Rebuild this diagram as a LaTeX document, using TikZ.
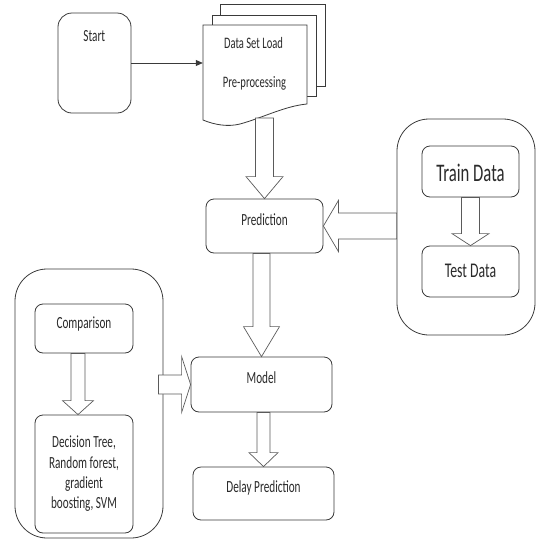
\documentclass[tikz,border=0pt]{standalone}
\usepackage{fontspec}
\setmainfont{Carlito}[FakeStretch=0.66]
\usetikzlibrary{arrows.meta,calc}

\definecolor{linec}{HTML}{3A3A3A}
\definecolor{arrc}{HTML}{5A5A5A}
\definecolor{textc}{HTML}{2A2A2A}

% block arrows: #1 start, #2 tip, #3 shaft half width, #4 head half width, #5 head length
\newcommand\blkdown[5]{\draw[blk] let \p1=(#1), \p2=(#2) in
  (\x2-#3,\y1) -- (\x2-#3,\y2+#5) -- (\x2-#4,\y2+#5) -- (\p2) --
  (\x2+#4,\y2+#5) -- (\x2+#3,\y2+#5) -- (\x2+#3,\y1) -- cycle;}
\newcommand\blkleft[5]{\draw[blk] let \p1=(#1), \p2=(#2) in
  (\x1,\y2+#3) -- (\x2+#5,\y2+#3) -- (\x2+#5,\y2+#4) -- (\p2) --
  (\x2+#5,\y2-#4) -- (\x2+#5,\y2-#3) -- (\x1,\y2-#3) -- cycle;}
\newcommand\blkright[5]{\draw[blk] let \p1=(#1), \p2=(#2) in
  (\x1,\y2+#3) -- (\x2-#5,\y2+#3) -- (\x2-#5,\y2+#4) -- (\p2) --
  (\x2-#5,\y2-#4) -- (\x2-#5,\y2-#3) -- (\x1,\y2-#3) -- cycle;}

\begin{document}
\begin{tikzpicture}[x=1pt,y=-1pt,
  box/.style={draw=linec, line width=0.8pt, rounded corners=8pt, fill=white,
    inner sep=0pt, text height=7pt, text depth=9pt, text=textc,
    font=\fontsize{17}{20}\selectfont},
  group/.style={draw=linec, line width=0.8pt, rounded corners=32pt, inner sep=0pt},
  page/.style={draw=linec, line width=0.8pt, fill=white},
  blk/.style={draw=arrc, line width=0.7pt, fill=white, line join=miter},
  txt/.style={inner sep=0pt, anchor=base, text=textc, font=\fontsize{16}{19}\selectfont},
]
\useasboundingbox (0,0) rectangle (536,539);

% group containers
\node[group, minimum width=138pt, minimum height=216pt] (traingrp) at (466,227) {};
\node[group, minimum width=148pt, minimum height=269pt] (leftgrp) at (89,403.5) {};

% start
\node[box, rounded corners=14pt, minimum width=73pt, minimum height=100pt] (start) at (94.5,63) {};
\node[txt, font=\fontsize{17}{20}\selectfont] (starttxt) at (94.3,41.7) {Start};

% multi-document: data set load / pre-processing
\draw[page] (220,4) rectangle (325,86);
\draw[page] (212,15) rectangle (316,96);
\draw[page] (203,25) -- (307,25) -- (307,104)
  .. controls (285,106) and (262,118) .. (240,124)
  .. controls (228,127) and (215,125) .. (203,120) -- cycle;
\node[inner sep=0pt, minimum width=104pt, minimum height=95pt] (doc) at (255,72.5) {};
\node[txt] (doctxt1) at (253.5,48) {Data Set Load};
\node[txt] (doctxt2) at (254.5,87.5) {Pre-processing};
\coordinate (docout) at (263,118);

% main boxes
\node[box, minimum width=117pt, minimum height=54pt] (pred) at (264.5,226) {Prediction};
\node[box, minimum width=141pt, minimum height=55pt] (model) at (261.5,384.5) {Model};
\node[box, minimum width=141pt, minimum height=53pt] (delay) at (263.5,493.5) {Delay Prediction};

% train / test group
\node[box, minimum width=97pt, minimum height=51pt, text height=20pt, text depth=0pt,
  font=\fontsize{25.3}{28}\selectfont] (train) at (470.5,171.5) {Train Data};
\node[box, minimum width=97pt, minimum height=51pt, text height=12pt, text depth=0.6pt,
  font=\fontsize{20.9}{24}\selectfont] (test) at (470.5,271.5) {Test Data};

% comparison group
\node[box, minimum width=98pt, minimum height=49pt, text height=9pt, text depth=9pt] (comp) at (84,328.5) {Comparison};
\node[box, minimum width=98pt, minimum height=118pt, align=center,
  text height=, text depth=, font=\fontsize{17}{20.4}\selectfont] (algos) at (84,474)
  {Decision Tree,\\Random forest,\\gradient\\boosting, SVM};

% connectors
\draw[linec, line width=0.8pt, -{Triangle[length=7pt,width=6pt]}]
  (start.east) -- (start.east -| doc.west);
\blkdown{docout}{pred.north}{9pt}{18.5pt}{22pt}
\blkdown{train.south}{test.north}{9pt}{18.5pt}{12pt}
\blkleft{traingrp.west}{pred.east}{13pt}{25.5pt}{15pt}
\blkdown{pred.south}{model.north}{8.5pt}{18pt}{30pt}
\coordinate (compout) at ($(comp.south)+(-5,0)$);
\coordinate (algosin) at ($(algos.north)+(-6,0)$);
\blkdown{compout}{algosin}{7pt}{15.5pt}{14pt}
\coordinate (leftout) at ($(leftgrp.east)+(-5,0)$);
\blkright{leftout}{model.west}{9.5pt}{28pt}{9pt}
\blkdown{model.south}{delay.north}{6.5pt}{14.5pt}{14pt}
\end{tikzpicture}
\end{document}
